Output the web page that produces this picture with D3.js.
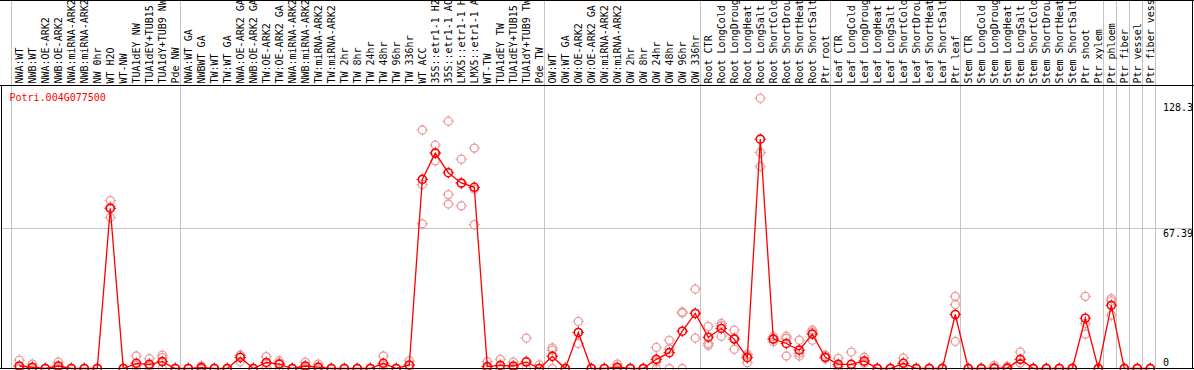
<!DOCTYPE html>
<html><head><meta charset="utf-8">
<script src="https://cdn.jsdelivr.net/npm/d3@7"></script>
<style>
body{margin:0;background:#fff}
svg{display:block}
text{font-family:"DejaVu Sans Mono",monospace;font-size:10px}
</style>
</head><body>
<svg id="chart" width="1194" height="370"></svg>
<script>
const categories = [
"NWA:WT","NWB:WT","NWA:OE-ARK2","NWB:OE-ARK2","NWA:miRNA-ARK2","NWB:miRNA-ARK2","NW 0hr","WT H2O","WT-NW",
"TUA1dEY NW","TUA1dEY+TUB15 NW","TUA1dY+TUB9 NW","Pde NW",
"NWA:WT GA","NWBWT GA","TW:WT","TW:WT GA","NWA:OE-ARK2 GA","NWB:OE-ARK2 GA","TW:OE-ARK2","TW:OE-ARK2 GA",
"NWA:miRNA-ARK2 GA","NWB:miRNA-ARK2 GA","TW:miRNA-ARK2","TW:miRNA-ARK2 GA","TW 2hr","TW 8hr","TW 24hr","TW 48hr",
"TW 96hr","TW 336hr","WT ACC","35S::etr1-1 H2O","35S::etr1-1 ACC","LMX5::etr1-1 H2O","LMX5::etr1-1 ACC","WT-TW",
"TUA1dEY TW","TUA1dEY+TUB15 TW","TUA1dY+TUB9 TW","Pde TW",
"OW:WT","OW:WT GA","OW:OE-ARK2","OW:OE-ARK2 GA","OW:miRNA-ARK2","OW:miRNA-ARK2 GA","OW 2hr","OW 8hr","OW 24hr",
"OW 48hr","OW 96hr","OW 336hr",
"Root CTR","Root LongCold","Root LongDrought","Root LongHeat","Root LongSalt","Root ShortCold","Root ShortDrought",
"Root ShortHeat","Root ShortSalt","Ptr root",
"Leaf CTR","Leaf LongCold","Leaf LongDrought","Leaf LongHeat","Leaf LongSalt","Leaf ShortCold","Leaf ShortDrought",
"Leaf ShortHeat","Leaf ShortSalt","Ptr leaf",
"Stem CTR","Stem LongCold","Stem LongDrought","Stem LongHeat","Stem LongSalt","Stem ShortCold","Stem ShortDrought",
"Stem ShortHeat","Stem ShortSalt","Ptr shoot",
"Ptr xylem","Ptr phloem","Ptr fiber","Ptr vessel","Ptr fiber vessel"
];

const meanValues = [
1.2,0.6,0,1.2,0,0,0,76.8,0,2.5,2.0,3.3,0,
0,0.4,0,0,5.3,0,2.9,2.1,0,1.2,0.7,0,0,0,0,2.5,0,1.7,90.7,103.3,93.9,89.0,86.9,0.9,1.5,1.2,3.1,0,
5.8,0,17.3,0,0,0.6,0,0,4.4,7.6,17.9,26.4,
15.0,19.2,14.1,5.2,110.0,14.1,12.0,8.8,16.5,5.4,
2.0,2.0,3.6,0,0,2.5,0,0,0,25.9,
0,0,0.2,0.2,4.4,0,0,0,0,24.1,
0,30.3,0,0,0
];

const rep1 = [
4.0,2.1,0,3.1,0,0,0,80.5,0,6.0,4.7,6.4,0,
0,1.2,0,0,6.2,0,5.7,3.6,0,3.1,2.1,0,0,0,0,6.0,0,3.7,114.4,107.1,118.6,100.4,105.7,3.3,4.4,3.1,14.6,1.7,
9.9,0,22.6,0,0,2.1,0,0,10.1,13.5,27.1,38.1,
20.2,21.6,18.4,6.8,129.6,15.2,15.5,13.6,18.4,6.4,
4.9,7.9,5.4,0,0,5.0,0,0,0,34.6,
0,0,1.5,1.0,7.9,0,0,0,0,34.6,
0,33.5,0,0,0
];

const rep2 = [
0,0,0,0.5,0,0,0,72.4,0,1.5,1.3,5.2,0,
0,0,0,0,6.5,0,2.5,2.5,0,0.5,0,0,0,0,0,1.5,0,1.4,69.4,99.6,83.4,78.0,69.0,0,0,0.5,3.5,0,
8.8,0,12.0,0,0,0,0,0,3.1,9.3,26.6,14.6,
12.0,15.5,9.2,2.8,103.6,12.8,6.0,7.3,13.6,4.9,
1.0,0,2.5,0,0,2.5,0,0,0,30.7,
0,0,0,0,2.5,0,0,0,0,21.6,
0,32.4,0,0,0
];

const rep3 = [
0,0,0,0,0,0,0,77.5,0,0,0,0,0,
0,0,0,0,3.2,0,0.5,0.2,0,0,0,0,0,0,0,0,0,0,88.3,103.3,78.9,88.6,86.0,0,0,0,0,0,
0,0,17.3,0,0,0,0,0,0,0,0,26.5,
11.1,20.5,14.7,6.0,96.9,14.3,14.5,6.0,17.5,5.0,
0,0,2.9,0,0,0,0,0,0,13.0,
0,0,0,0,2.8,0,0,0,0,16.5,
0,25.6,0,0,0
];

const yTickValues = [128.3, 67.39, 0];
const yTickLabels = ["128.3", "67.39", "0"];
const geneName = "Potri.004G077500";
const groupStarts = [0, 13, 41, 53, 63, 73, 84, 85, 86, 87, 88];

const W = 1194, H = 370;
const svg = d3.select("#chart");

const x = d3.scalePoint().domain(d3.range(categories.length)).range([19.3, 1150.3]);
const step = x.step();
const y = d3.scaleLinear().domain([0, 128.3]).range([368.5, 101]);

const gridColor = "#c4c4c4";
const red = "#ff0000";
const pink = "#ec9c9c";

// horizontal grid at 67.39
svg.append("line")
  .attr("x1", 1).attr("x2", 1193)
  .attr("y1", Math.round(y(67.39)) + 0.5).attr("y2", Math.round(y(67.39)) + 0.5)
  .attr("stroke", gridColor).attr("stroke-width", 1).attr("shape-rendering", "crispEdges");

// group dividers
svg.append("g").selectAll("line").data(groupStarts).join("line")
  .attr("x1", k => Math.round(x(0) + k * step - 8.6) + 0.5)
  .attr("x2", k => Math.round(x(0) + k * step - 8.6) + 0.5)
  .attr("y1", 0).attr("y2", 369)
  .attr("stroke", gridColor).attr("stroke-width", 1).attr("shape-rendering", "crispEdges");

// category labels (rotated)
svg.append("g").selectAll("text").data(categories).join("text")
  .attr("transform", (d, i) => `translate(${x(i) + 3.6},83.5) rotate(-90)`)
  .attr("fill", "#000")
  .text(d => d);

// frame lines
const frame = svg.append("g").attr("stroke", "#000").attr("stroke-width", 1).attr("shape-rendering", "crispEdges");
frame.append("line").attr("x1", 0).attr("x2", W).attr("y1", 85.5).attr("y2", 85.5);
frame.append("line").attr("x1", 0).attr("x2", W).attr("y1", 368.5).attr("y2", 368.5);
frame.append("line").attr("x1", 1.5).attr("x2", 1.5).attr("y1", 85).attr("y2", 369);
frame.append("line").attr("x1", 1192.5).attr("x2", 1192.5).attr("y1", 0).attr("y2", 369);
frame.append("line").attr("x1", 0).attr("x2", W).attr("y1", 0.5).attr("y2", 0.5);

// y tick labels on right
svg.append("g").selectAll("text").data(yTickValues).join("text")
  .attr("x", 1163)
  .attr("y", (d, i) => d === 0 ? y(d) - 3 : y(d) + 9.5)
  .attr("fill", "#000")
  .text((d, i) => yTickLabels[i]);

// gene name
svg.append("text").attr("x", 9.5).attr("y", 100.5).attr("fill", red).text(geneName);

function marker(g, cx, cy, color, sw) {
  const r = 4;
  g.append("circle").attr("cx", cx).attr("cy", cy).attr("r", r)
    .attr("fill", "none").attr("stroke", color).attr("stroke-width", sw);
  const t = 1.8;
  [[0, -1], [0, 1], [-1, 0], [1, 0]].forEach(([dx, dy]) => {
    g.append("line")
      .attr("x1", cx + dx * (r - 0.5)).attr("y1", cy + dy * (r - 0.5))
      .attr("x2", cx + dx * (r + t)).attr("y2", cy + dy * (r + t))
      .attr("stroke", color).attr("stroke-width", 1);
  });
}

// replicates
const repG = svg.append("g");
[rep1, rep2, rep3].forEach(rep => {
  rep.forEach((v, i) => marker(repG, x(i), y(v), pink, 1.3));
});

// mean line
svg.append("path")
  .datum(meanValues)
  .attr("fill", "none").attr("stroke", red).attr("stroke-width", 1.3)
  .attr("d", d3.line().x((d, i) => x(i)).y(d => y(d)));

// mean markers
const meanG = svg.append("g");
meanValues.forEach((v, i) => marker(meanG, x(i), y(v), red, 1.6));

// redraw bottom line on top of markers
svg.append("line").attr("x1", 0).attr("x2", W).attr("y1", 368.5).attr("y2", 368.5)
  .attr("stroke", "#000").attr("shape-rendering", "crispEdges");
</script>
</body></html>
